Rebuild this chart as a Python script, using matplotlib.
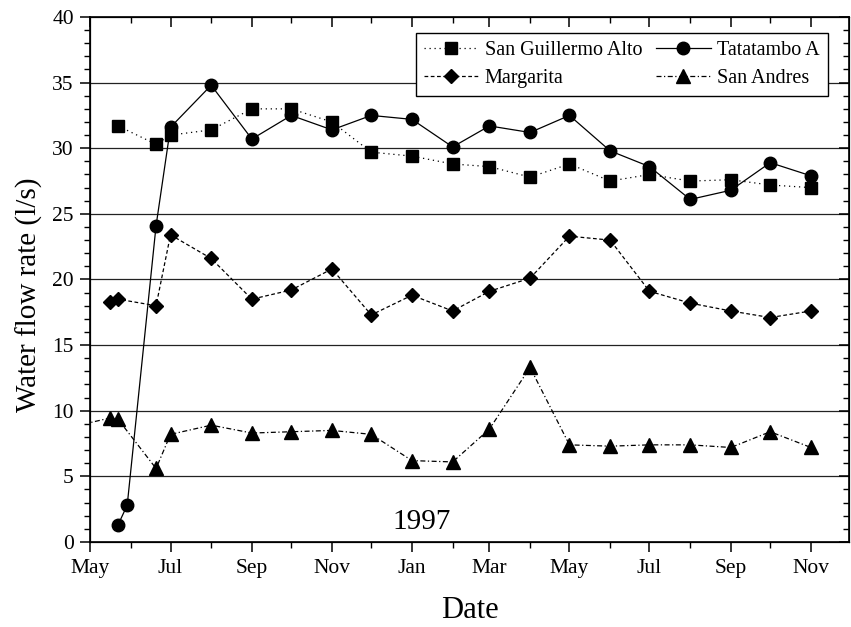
import matplotlib
matplotlib.use('Agg')
import matplotlib.pyplot as plt
import matplotlib.dates as mdates
import pandas as pd

plt.rcParams['font.family'] = ['Liberation Serif', 'DejaVu Serif']

# sampling dates (1st of every month from Jul 1996 on)
monthly = list(pd.date_range('1996-07-01', '1997-11-01', freq='MS').strftime('%Y-%m-%d'))

sga_dates = ['1996-05-22', '1996-06-20'] + monthly
sga_vals = [31.7, 30.3, 31.0, 31.4, 33.0, 33.0, 32.0, 29.7, 29.4, 28.8, 28.6,
            27.8, 28.8, 27.5, 28.0, 27.5, 27.6, 27.2, 27.0]

tat_dates = ['1996-05-22', '1996-05-29', '1996-06-20'] + monthly
tat_vals = [1.3, 2.8, 24.1, 31.6, 34.8, 30.7, 32.5, 31.4, 32.5, 32.2, 30.1,
            31.7, 31.2, 32.5, 29.8, 28.6, 26.1, 26.8, 28.9, 27.9]

mar_dates = ['1996-05-16', '1996-05-22', '1996-06-20'] + monthly
mar_vals = [18.3, 18.5, 18.0, 23.4, 21.6, 18.5, 19.2, 20.8, 17.3, 18.8, 17.6,
            19.1, 20.1, 23.3, 23.0, 19.1, 18.2, 17.6, 17.1, 17.6]

san_dates = ['1996-04-01', '1996-05-16', '1996-05-22', '1996-06-20'] + monthly
san_vals = [8.4, 9.45, 9.35, 5.6, 8.2, 8.9, 8.3, 8.4, 8.5, 8.2, 6.2, 6.1,
            8.6, 13.3, 7.4, 7.3, 7.4, 7.4, 7.2, 8.4, 7.2]

fig = plt.figure(figsize=(8.51, 6.27), dpi=100)
ax = fig.add_axes([0.1063, 0.1356, 0.8913, 0.8373])

lw = 0.9
ax.plot(pd.to_datetime(sga_dates), sga_vals, color='black', lw=lw,
        ls=(0, (1, 3)), marker='s', ms=8.5, label='San Guillermo Alto')
ax.plot(pd.to_datetime(mar_dates), mar_vals, color='black', lw=lw,
        ls=(0, (3, 2)), marker='D', ms=7.5, label='Margarita')
ax.plot(pd.to_datetime(tat_dates), tat_vals, color='black', lw=lw,
        ls='-', marker='o', ms=9, label='Tatatambo A')
ax.plot(pd.to_datetime(san_dates), san_vals, color='black', lw=lw,
        ls=(0, (4, 2, 1, 2)), marker='^', ms=9.5, label='San Andres')

xmin = mdates.date2num(pd.Timestamp('1996-05-01'))
xmax = mdates.date2num(pd.Timestamp('1997-11-30'))
ax.set_xlim(xmin, xmax)
ax.set_ylim(0, 40)

for y in range(5, 40, 5):
    ax.axhline(y, color='#222222', lw=0.9, zorder=0)

ax.xaxis.set_major_locator(mdates.MonthLocator(bymonth=(1, 3, 5, 7, 9, 11)))
ax.xaxis.set_minor_locator(mdates.MonthLocator())
ax.xaxis.set_major_formatter(mdates.DateFormatter('%b'))
ax.set_yticks(range(0, 41, 5))
ax.set_yticks(range(0, 41, 1), minor=True)
ax.tick_params(which='major', direction='out', length=7, width=1.1,
               labelsize=15.5, pad=5)
ax.tick_params(which='minor', direction='out', length=4, width=1.0)
for s in ax.spines.values():
    s.set_linewidth(1.2)

# inward ticks on the top and right
top = ax.twiny()
top.set_xlim(xmin, xmax)
top.xaxis.set_major_locator(mdates.MonthLocator(bymonth=(1, 3, 5, 7, 9, 11)))
top.xaxis.set_minor_locator(mdates.MonthLocator())
top.tick_params(which='major', direction='in', length=7, width=1.1, labeltop=False)
top.tick_params(which='minor', direction='in', length=4, width=1.0)
right = ax.twinx()
right.set_ylim(0, 40)
right.set_yticks(range(0, 41, 5))
right.set_yticks(range(0, 41, 1), minor=True)
right.tick_params(which='major', direction='in', length=7, width=1.1, labelright=False)
right.tick_params(which='minor', direction='in', length=4, width=1.0)

ax.set_xlabel('Date', fontsize=22, labelpad=13)
ax.set_ylabel('Water flow rate (l/s)', fontsize=21)
ax.yaxis.set_label_coords(-0.063, 0.47)

ax.text(mdates.date2num(pd.Timestamp('1997-01-08')), 1.5, '1997',
        fontsize=21, ha='center', va='center')

leg = ax.legend(ncol=2, loc='upper right', bbox_to_anchor=(0.972, 0.97),
                borderaxespad=0, fontsize=14.5, frameon=True, fancybox=False,
                framealpha=1, edgecolor='black', handlelength=2.7,
                handletextpad=0.3, columnspacing=0.7, labelspacing=0.42,
                borderpad=0.42, numpoints=1)
leg.get_frame().set_linewidth(1.0)
leg.set_zorder(5)

fig.savefig('out.png', dpi=100)
